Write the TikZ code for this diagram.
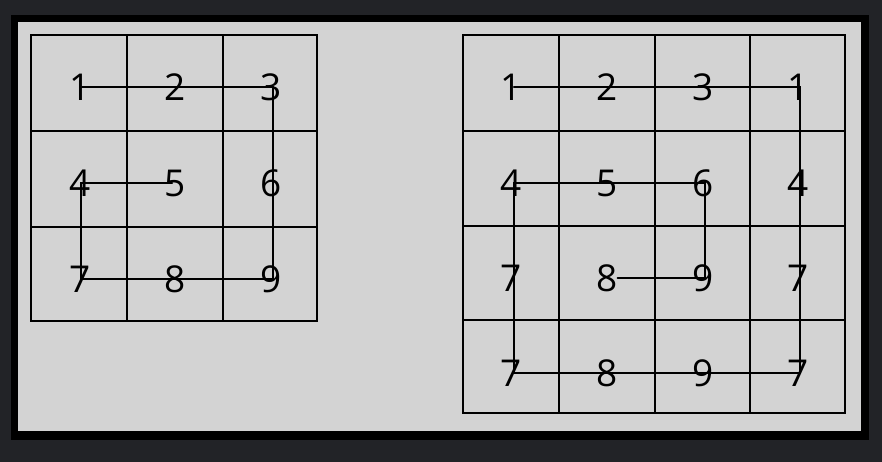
\documentclass[tikz,border=0pt]{standalone}
\usepackage{fontspec}
\setmainfont{Open Sans}
\definecolor{outerbg}{RGB}{34,35,39}
\definecolor{panel}{RGB}{211,211,211}
\tikzset{
  gridline/.style={line width=2.2pt, black},
  digit/.style={font=\fontsize{37}{37}\selectfont, inner sep=0pt, text=black},
  pathline/.style={line width=2.4pt, black, line cap=round}
}
\begin{document}
\begin{tikzpicture}[x=1pt,y=-1pt]
\useasboundingbox (0,0) rectangle (882,462);
\fill[outerbg] (0,0) rectangle (882,462);
\fill[black] (11,15) rectangle (869,440);
\fill[panel] (18,22) rectangle (861,431);
% left grid
\draw[gridline] (31,35) rectangle (317,321);
\draw[gridline] (127,35) -- (127,321) (223,35) -- (223,321);
\draw[gridline] (31,131) -- (317,131) (31,227) -- (317,227);
% right grid
\draw[gridline] (463,35) rectangle (845,413);
\draw[gridline] (559,35) -- (559,413) (655,35) -- (655,413) (750,35) -- (750,413);
\draw[gridline] (463,131) -- (845,131) (463,226) -- (845,226) (463,320) -- (845,320);
% left digits
\node[digit] (l1) at (80,87) {1};
\node[digit] (l2) at (175,87) {2};
\node[digit] (l3) at (271,87) {3};
\node[digit] (l4) at (80,183) {4};
\node[digit] (l5) at (175,183) {5};
\node[digit] (l6) at (271,183) {6};
\node[digit] (l7) at (80,279) {7};
\node[digit] (l8) at (175,279) {8};
\node[digit] (l9) at (271,279) {9};
% right digits
\node[digit] (r11) at (511,87) {1};
\node[digit] (r12) at (607,87) {2};
\node[digit] (r13) at (703,87) {3};
\node[digit] (r14) at (798,87) {1};
\node[digit] (r21) at (511,183) {4};
\node[digit] (r22) at (607,183) {5};
\node[digit] (r23) at (703,183) {6};
\node[digit] (r24) at (798,183) {4};
\node[digit] (r31) at (511,278) {7};
\node[digit] (r32) at (607,278) {8};
\node[digit] (r33) at (703,278) {9};
\node[digit] (r34) at (798,278) {7};
\node[digit] (r41) at (511,373) {7};
\node[digit] (r42) at (607,373) {8};
\node[digit] (r43) at (703,373) {9};
\node[digit] (r44) at (798,373) {7};
% left path
\draw[pathline] ([xshift=2pt]l1.center) -- ([xshift=2pt]l3.center) -- ([xshift=2pt]l9.center) -- ([xshift=1pt]l7.center) -- ([xshift=1pt]l4.center) -- ([xshift=-3pt]l5.center);
% right path
\draw[pathline] ([xshift=3pt]r11.center) -- ([xshift=2pt]r14.center) -- ([xshift=2pt]r44.center) -- ([xshift=3pt]r41.center) -- ([xshift=3pt]r21.center) -- ([xshift=2pt]r23.center) -- ([xshift=2pt]r33.center) -- (r32.east);
\end{tikzpicture}
\end{document}
